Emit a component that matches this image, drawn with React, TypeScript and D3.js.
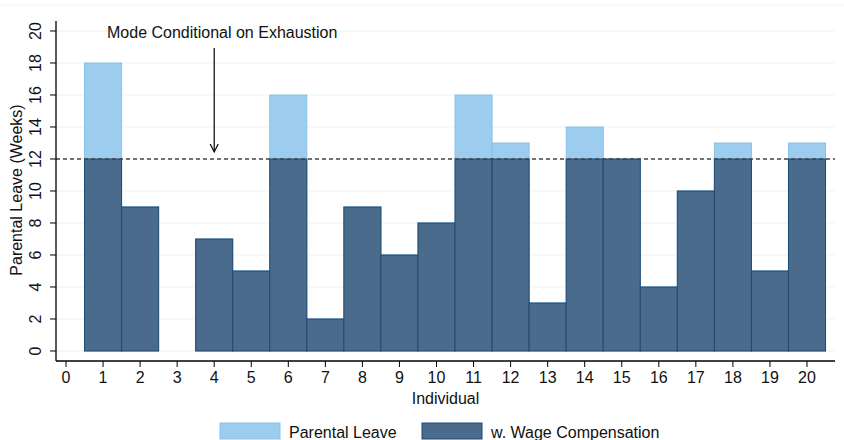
import React from "react";
import * as d3 from "d3";

const individuals = [1, 2, 3, 4, 5, 6, 7, 8, 9, 10, 11, 12, 13, 14, 15, 16, 17, 18, 19, 20];
const parentalLeave = [18, 9, 0, 7, 5, 16, 2, 9, 6, 8, 16, 13, 3, 14, 12, 4, 10, 13, 5, 13];
const wageCompensation = [12, 9, 0, 7, 5, 12, 2, 9, 6, 8, 12, 12, 3, 12, 12, 4, 10, 12, 5, 12];
const xTicks = d3.range(0, 21);
const yTicks = d3.range(0, 21, 2);
const modeValue = 12;
const annotation = "Mode Conditional on Exhaustion";
const arrowAt = 4;
const legendLabels = ["Parental Leave", "w. Wage Compensation"];

const W = 844;
const H = 440;
const LIGHT = "#9dcdee";
const LIGHT_STROKE = "#88c2ea";
const DARK = "#4a6b8b";
const DARK_STROKE = "#1f4a72";
const FONT = "Liberation Sans, Arial, sans-serif";
const FS = 16;

export default function App() {
  const x = d3.scaleLinear().domain([0, 20]).range([66, 807]);
  const y = d3.scaleLinear().domain([0, 20]).range([351, 31]);
  const left = 56;
  const right = 835;
  const axisY = 361;

  return (
    <svg width={W} height={H} style={{ position: "absolute", left: 0, top: 0, background: "#fff" }} fontFamily={FONT}>
      <line x1={0} x2={W} y1={5} y2={5} stroke="#eef3f4" strokeWidth={1} />
      {yTicks.map((t) => (
        <line key={"g" + t} x1={left} x2={right} y1={y(t)} y2={y(t)} stroke="#eef3f5" strokeWidth={1.2} />
      ))}
      {individuals.map((d, i) =>
        parentalLeave[i] > 0 ? (
          <rect
            key={"l" + d}
            x={x(d - 0.5)}
            y={y(parentalLeave[i])}
            width={x(d + 0.5) - x(d - 0.5)}
            height={y(0) - y(parentalLeave[i])}
            fill={LIGHT}
            stroke={LIGHT_STROKE}
            strokeWidth={1}
          />
        ) : null
      )}
      {individuals.map((d, i) =>
        wageCompensation[i] > 0 ? (
          <rect
            key={"d" + d}
            x={x(d - 0.5)}
            y={y(wageCompensation[i])}
            width={x(d + 0.5) - x(d - 0.5)}
            height={y(0) - y(wageCompensation[i])}
            fill={DARK}
            stroke={DARK_STROKE}
            strokeWidth={1}
          />
        ) : null
      )}
      <line x1={left} x2={right} y1={y(modeValue)} y2={y(modeValue)} stroke="#444" strokeWidth={1.3} strokeDasharray="4 3" />
      {/* y axis */}
      <line x1={left} x2={left} y1={y(20) - 10} y2={axisY} stroke="#000" strokeWidth={1.3} />
      {yTicks.map((t) => (
        <g key={"yt" + t}>
          <line x1={left - 6} x2={left} y1={y(t)} y2={y(t)} stroke="#000" strokeWidth={1} />
          <text
            transform={`translate(${41},${y(t)}) rotate(-90)`}
            textAnchor="middle"
            fontSize={FS}
            fill="#111"
          >
            {t}
          </text>
        </g>
      ))}
      <text transform={`translate(22,${190}) rotate(-90)`} textAnchor="middle" fontSize={FS} fill="#111">
        Parental Leave (Weeks)
      </text>
      {/* x axis */}
      <line x1={left} x2={right} y1={axisY} y2={axisY} stroke="#000" strokeWidth={1.3} />
      {xTicks.map((t) => (
        <g key={"xt" + t}>
          <line x1={x(t)} x2={x(t)} y1={axisY} y2={axisY + 6} stroke="#000" strokeWidth={1} />
          <text x={x(t)} y={axisY + 22} textAnchor="middle" fontSize={FS} fill="#111">
            {t}
          </text>
        </g>
      ))}
      <text x={(left + right) / 2} y={404} textAnchor="middle" fontSize={FS} fill="#111">
        Individual
      </text>
      {/* annotation */}
      <text x={107} y={38} fontSize={FS} fill="#111">
        {annotation}
      </text>
      <line x1={x(arrowAt)} x2={x(arrowAt)} y1={48} y2={151} stroke="#000" strokeWidth={1.2} />
      <path
        d={`M${x(arrowAt) - 4},${144} L${x(arrowAt)},${152} L${x(arrowAt) + 4},${144}`}
        fill="none"
        stroke="#000"
        strokeWidth={1.2}
      />
      {/* legend */}
      <rect x={220} y={423} width={60} height={16} fill={LIGHT} stroke={LIGHT_STROKE} strokeWidth={1} />
      <text x={289} y={438} fontSize={FS} fill="#111">
        {legendLabels[0]}
      </text>
      <rect x={422} y={423} width={60} height={16} fill={DARK} stroke={DARK_STROKE} strokeWidth={1} />
      <text x={491} y={438} fontSize={FS} fill="#111">
        {legendLabels[1]}
      </text>
    </svg>
  );
}
